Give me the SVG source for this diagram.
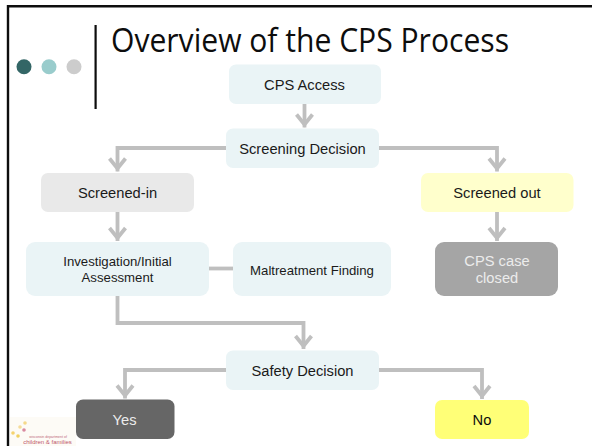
<svg xmlns="http://www.w3.org/2000/svg" width="592" height="446" viewBox="0 0 592 446">
<defs>
<marker id="arrow" markerUnits="userSpaceOnUse" markerWidth="22" markerHeight="20" refX="18" refY="10" orient="auto">
<path d="M5 2 L15 10 L5 18" fill="none" stroke="#bfbfbf" stroke-width="3.8"/>
</marker>
</defs>
<style>
text{font-family:"Liberation Sans",Arial,sans-serif;font-size:14.700px;text-anchor:middle;fill:#1a1a1a}
.box{stroke:none}
.pale{fill:#eaf4f6}
.small{font-size:13.200px}
.c{fill:none;stroke:#bfbfbf;stroke-width:3.800}
.a{marker-end:url(#arrow)}
.light{fill:#ececec}
</style>
<rect width="592" height="446" fill="#fff"/>
<g id="frame">
<path d="M8 446V6.300H592" fill="none" stroke="#0d0d0d" stroke-width="2.400"/>
<circle cx="24" cy="66.700" r="7.500" fill="#336666"/>
<circle cx="49" cy="66.700" r="7.500" fill="#99cccc"/>
<circle cx="74" cy="66.700" r="7.500" fill="#cccccc"/>
<rect x="94.500" y="25" width="2.200" height="84" fill="#0d0d0d"/>
</g>
<text id="title" x="111" y="52" style="font-family:'Open Sans','Noto Sans',sans-serif;font-size:32.500px;text-anchor:start;fill:#0d0d0d" textLength="398" lengthAdjust="spacingAndGlyphs">Overview of the CPS Process</text>
<g id="connectors">
<path class="c a" d="M304.500 104V127.500"/>
<path class="c a" d="M226 148H117.500V171.500"/>
<path class="c a" d="M379 148H497V171.500"/>
<path class="c a" d="M117.500 212V241"/>
<path class="c a" d="M497 212V241"/>
<path class="c" d="M209 268.500H233"/>
<path class="c a" d="M117.500 296V323H303.500V349"/>
<path class="c a" d="M226 370H125V398.500"/>
<path class="c a" d="M379 370H482V399"/>
</g>
<g id="cps-access"><rect class="box pale" x="229" y="64.500" width="152" height="39.500" rx="7"/><text x="304.500" y="90">CPS Access</text></g>
<g id="screening-decision"><rect class="box pale" x="226" y="128.500" width="153" height="39.500" rx="7"/><text x="302.500" y="154">Screening Decision</text></g>
<g id="screened-in"><rect class="box" fill="#e9e9e9" x="41" y="173" width="153" height="39" rx="7"/><text x="117.500" y="198">Screened-in</text></g>
<g id="screened-out"><rect class="box" fill="#ffffcc" x="421" y="173" width="152.500" height="39" rx="7"/><text x="497" y="198">Screened out</text></g>
<g id="investigation"><rect class="box pale" x="26" y="242" width="183" height="54" rx="9"/><text class="small" x="117.500" y="266">Investigation/Initial</text><text class="small" x="117.500" y="282">Assessment</text></g>
<g id="maltreatment-finding"><rect class="box pale" x="233" y="242" width="158" height="54" rx="9"/><text class="small" x="312" y="274.500">Maltreatment Finding</text></g>
<g id="cps-case-closed"><rect class="box" fill="#a5a5a5" x="435" y="242" width="123" height="54" rx="9"/><text class="light" x="497" y="266">CPS case</text><text class="light" x="497" y="283">closed</text></g>
<g id="safety-decision"><rect class="box pale" x="226" y="350.500" width="153" height="39.500" rx="7"/><text x="302.500" y="376">Safety Decision</text></g>
<g id="yes"><rect class="box" fill="#666666" x="76" y="399.500" width="98.500" height="39.500" rx="7"/><text class="light" x="124.500" y="425">Yes</text></g>
<g id="no"><rect class="box" fill="#ffff77" x="435" y="400" width="94" height="39" rx="7"/><text x="482" y="425" style="fill:#0d0d0d">No</text></g>
<g id="logo">
<rect x="10" y="417" width="66" height="29" fill="#fdfbf6"/>
<circle cx="25" cy="423" r="1.800" fill="#f5d98a"/><circle cx="20" cy="427" r="1.800" fill="#f6dc9a"/><circle cx="24" cy="430" r="1.800" fill="#d98aa0"/><circle cx="13" cy="433" r="1.800" fill="#f5d36e"/><circle cx="18" cy="436" r="1.800" fill="#f0d060"/>
<text x="48" y="437.500" style="font-size:3.500px;fill:#c06a7a">wisconsin department of</text>
<text x="47.500" y="444" style="font-size:6px;fill:#c0566a">children &amp; families</text>
</g>
</svg>
